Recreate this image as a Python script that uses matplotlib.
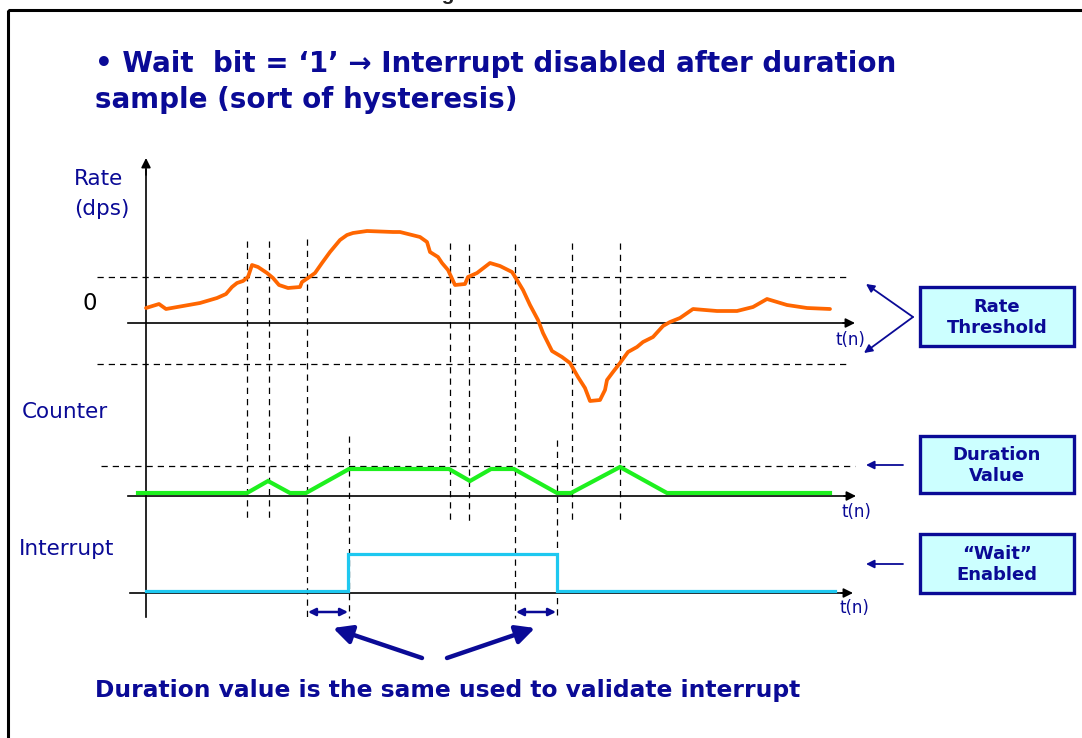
import matplotlib
matplotlib.use("Agg")
import matplotlib.pyplot as plt
from matplotlib.patches import Rectangle

# ---------------- data (diagram units = pixels of the original sheet) ----------------
rate_t = [146, 159, 166, 200, 217, 226, 232, 237, 243, 248, 252, 258, 267, 273, 279, 288,
          300, 302, 308, 315, 322, 330, 340, 347, 353, 367, 393, 400, 420, 427, 430, 438, 442,
          448, 455, 465, 468, 477, 490, 500, 512, 517, 523, 530, 538, 543, 552, 562, 570,
          578, 585, 590, 600, 605, 607, 613, 620, 628, 637, 643, 653, 663, 670, 680, 693,
          717, 737, 753, 767, 787, 807, 830]
rate_v = [308, 304, 309, 303, 298, 294, 287, 283, 281, 277, 265, 267, 273, 278, 285, 288,
          287, 282, 278, 273, 263, 252, 240, 235, 233, 231, 232, 232, 237, 242, 252, 257, 263,
          270, 285, 284, 277, 273, 263, 266, 272, 280, 290, 305, 320, 333, 351, 357, 363,
          377, 388, 401, 400, 390, 380, 372, 363, 352, 347, 342, 337, 326, 322, 318, 309,
          311, 311, 307, 299, 305, 308, 309]

counter_t = [138, 247, 268, 290, 306, 349, 449, 470, 491, 514, 557, 571, 620, 667, 830]
counter_v = [493, 493, 481, 493, 493, 469, 469, 481, 469, 469, 493, 493, 467, 493, 493]

irq_t = [146, 348, 348, 557, 557, 835]
irq_v = [591, 591, 554, 554, 591, 591]

# vertical event markers: x, top, bottom
event_x = [247, 269, 307, 349, 450, 469, 515, 557, 572, 620]
event_top = [241, 241, 239, 436, 243, 244, 244, 440, 243, 243]
event_bot = [521, 521, 618, 618, 520, 522, 618, 618, 520, 522]

upper_thr, lower_thr, zero_rate = 277, 364, 323
duration_lvl, counter_zero, irq_zero = 466, 496, 593

box_labels = ["Rate\nThreshold", "Duration\nValue", "\u201cWait\u201d\nEnabled"]

NAVY = "#0a0a96"
ORANGE = "#ff6600"
GREEN = "#1ef01e"
CYAN = "#1ec8f0"
BOXFILL = "#ccffff"

fig = plt.figure(figsize=(10.82, 7.38), dpi=100)
ax = fig.add_axes([0, 0, 1, 1])
ax.set_xlim(0, 1082)
ax.set_ylim(738, 0)
ax.axis("off")

# frame and clipped caption
ax.add_patch(Rectangle((8, 10), 1100, 760, fill=False, lw=2.2, ec="black", clip_on=True))
ax.text(555, 4, "Figure 30. Wait bit enabled", ha="center", va="bottom", fontsize=15,
        fontweight="bold", color="#222222", family=["Liberation Sans", "DejaVu Sans"])

# title
tfont = dict(fontsize=20, fontweight="bold", color=NAVY, family="DejaVu Sans")
ax.text(95, 64, "\u2022 Wait  bit = \u20181\u2019 \u2192 Interrupt disabled after duration", va="center", **tfont)
ax.text(95, 100, "sample (sort of hysteresis)", va="center", **tfont)

# axis helper
def arrow(x0, y0, x1, y1, color="black", lw=1.2, ms=14, style="-|>"):
    ax.annotate("", xy=(x1, y1), xytext=(x0, y0),
                arrowprops=dict(arrowstyle=style, color=color, lw=lw, mutation_scale=ms,
                                shrinkA=0, shrinkB=0))

# y axis
ax.plot([146, 146], [617, 170], color="black", lw=1.2)
arrow(146, 175, 146, 158)
# horizontal axes
for y0, xs, xe in [(zero_rate, 128, 855), (counter_zero, 128, 856), (irq_zero, 130, 853)]:
    ax.plot([xs, xe - 10], [y0, y0], color="black", lw=1.2)
    arrow(xe - 12, y0, xe, y0)

# dashed references
dash = dict(color="black", lw=0.9, ls=(0, (5, 4)))
ax.plot([97, 848], [upper_thr, upper_thr], **dash)
ax.plot([97, 848], [lower_thr, lower_thr], **dash)
ax.plot([101, 855], [duration_lvl, duration_lvl], **dash)
for x, t, b in zip(event_x, event_top, event_bot):
    ax.plot([x, x], [t, b], **dash)

# signals
ax.plot(rate_t, rate_v, color=ORANGE, lw=2.7, solid_joinstyle="round", solid_capstyle="round")
ax.plot(counter_t, counter_v, color=GREEN, lw=3.0, solid_joinstyle="miter")
ax.plot(irq_t, irq_v, color=CYAN, lw=2.3, solid_joinstyle="miter")

# labels
lfont = dict(fontsize=15.5, color=NAVY, family="DejaVu Sans")
ax.text(74, 179, "Rate", va="center", **lfont)
ax.text(74, 209, "(dps)", va="center", **lfont)
ax.text(83, 304, "0", va="center", fontsize=16.5, color="black")
ax.text(22, 412, "Counter", va="center", **lfont)
ax.text(19, 549, "Interrupt", va="center", **lfont)
for x, y in [(835, 340), (842, 512), (840, 608)]:
    ax.text(x, y, "t(n)", va="center", fontsize=12, color=NAVY)

# interval double arrows
for xa, xb in [(307, 349), (515, 557)]:
    arrow(xa + 1, 612, xb - 1, 612, color=NAVY, lw=1.8, ms=11, style="<|-|>")

# big arrows
arrow(422, 658, 333, 628, color=NAVY, lw=3.2, ms=28)
arrow(447, 658, 535, 628, color=NAVY, lw=3.2, ms=28)

ax.text(95, 690, "Duration value is the same used to validate interrupt", va="center",
        fontsize=16.85, fontweight="bold", color=NAVY, family="DejaVu Sans")

# right boxes
boxes = [(920, 287, 154, 59), (920, 436, 154, 57), (920, 534, 154, 59)]
for (bx, by, bw, bh), lab in zip(boxes, box_labels):
    ax.add_patch(Rectangle((bx, by), bw, bh, fc=BOXFILL, ec=NAVY, lw=2.4))
    ax.text(bx + bw / 2, by + bh / 2 + 1, lab, ha="center", va="center", fontsize=13,
            fontweight="bold", color=NAVY, family="DejaVu Sans", linespacing=1.15)

# box pointers
arrow(913, 317, 866, 284, color=NAVY, lw=1.3, ms=12)
arrow(913, 317, 864, 353, color=NAVY, lw=1.3, ms=12)
arrow(903, 465, 866, 465, color=NAVY, lw=1.3, ms=12)
arrow(903, 564, 866, 564, color=NAVY, lw=1.3, ms=12)

fig.savefig("out.png", dpi=100)
